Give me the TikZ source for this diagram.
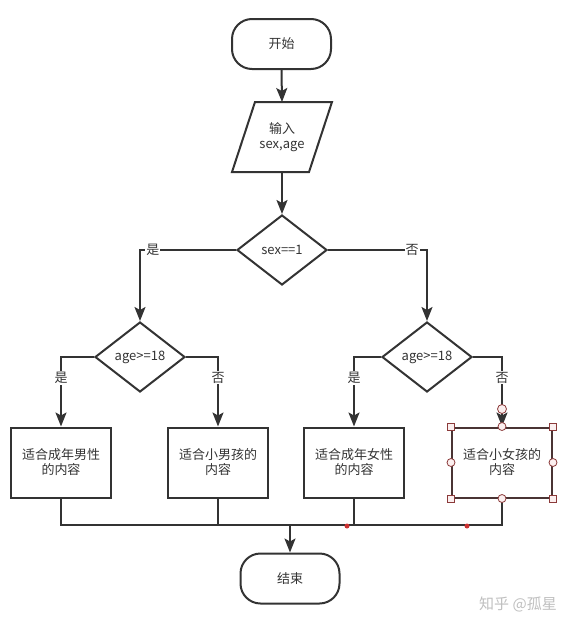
\documentclass[tikz,border=0pt]{standalone}
\usepackage{fontspec}
\setmainfont{Noto Sans CJK SC}
\usetikzlibrary{shapes.geometric,arrows.meta,calc}
\definecolor{ln}{HTML}{333333}
\definecolor{sel}{HTML}{4A3434}
\definecolor{hdl}{HTML}{8B3A3A}
\definecolor{hfill}{HTML}{FBEFEF}
\begin{document}
\begin{tikzpicture}[x=1pt,y=-1pt,
  every node/.style={font=\fontsize{13pt}{15pt}\selectfont, text=ln, inner sep=0pt},
  term/.style={draw=ln, line width=2pt, rounded corners=20pt, minimum width=99pt, minimum height=50pt},
  dec/.style={draw=ln, line width=2pt, diamond, aspect=1.286, minimum width=90pt, minimum height=70pt},
  proc/.style={draw=ln, line width=2pt, minimum width=100pt, minimum height=70pt, align=center},
  lbl/.style={fill=white, inner sep=1pt},
  conn/.style={draw=ln, line width=2pt},
  arr/.style={conn, -{Stealth[length=14pt,width=11pt,inset=3pt]}},
  handle/.style={draw=hdl, fill=hfill, line width=0.8pt},
]
\useasboundingbox (0,0) rectangle (579,629);

\node[term] (start) at (281.5,44) {开始};
\coordinate (inpT) at (282,102);
\coordinate (inpB) at (282,172);
\draw[conn] (255,102) -- (332,102) -- (309,172) -- (232,172) -- cycle;
\node[align=center] (inp) at (282,137) {输入\\sex,age};

\node[dec] (d1) at (282,250) {sex{=}{=}1};
\node[dec] (d2) at (140,357) {age{>}{=}18};
\node[dec] (d3) at (427,357) {age{>}{=}18};

\node[proc] (b1) at (61,462.5) {适合成年男性\\的内容};
\node[proc] (b2) at (218,462.5) {适合小男孩的\\内容};
\node[proc] (b3) at (354,462.5) {适合成年女性\\的内容};
\node[proc, draw=sel] (b4) at (502,462.5) {适合小女孩的\\内容};

\node[term] (end) at (290,578.5) {结束};

% main flow
\draw[arr] (start.south) -- (inpT);
\draw[arr] (inpB) -- (d1.north);

% first decision
\draw[arr] (d1.west) -| (d2.north) node[lbl, pos=0.433] {是};
\draw[arr] (d1.east) -| (d3.north) node[lbl, pos=0.425] {否};

% second decisions
\draw[arr] (d2.west) -| (b1.north) node[lbl, pos=0.65] {是};
\draw[arr] (d2.east) -| (b2.north) node[lbl, pos=0.65] {否};
\draw[arr] (d3.west) -| (b3.north) node[lbl, pos=0.65] {是};
\draw[arr] (d3.east) -| (b4.north) node[lbl, pos=0.65] {否};

% merge
\coordinate (m1) at (61,525);
\coordinate (m4) at (502,525);
\coordinate (mj) at (290,525);
\draw[conn] (b1.south) -- (m1) -- (m4) -- (b4.south);
\draw[conn] (b2.south) -- (b2.south |- m1);
\draw[conn] (b3.south) -- (b3.south |- m1);
\draw[arr] (mj) -- (end.north);

% selection artifacts
\draw[handle] (502,409) circle (4.5pt);
\foreach \p in {b4.north west, b4.north east, b4.south west, b4.south east}
  \draw[handle] ($(\p)+(-3.5,-3.5)$) rectangle ($(\p)+(3.5,3.5)$);
\foreach \p in {b4.north, b4.south, b4.west, b4.east}
  \draw[handle] (\p) circle (4pt);
\fill[red!75!black!80] (347,526) circle (2.5pt);
\fill[red!75!black!80] (467,526) circle (2.5pt);

% watermark
\node[text=black!25, font=\fontsize{15pt}{15pt}\selectfont] (wm) at (518,604) {知乎 @孤星};
\end{tikzpicture}
\end{document}
